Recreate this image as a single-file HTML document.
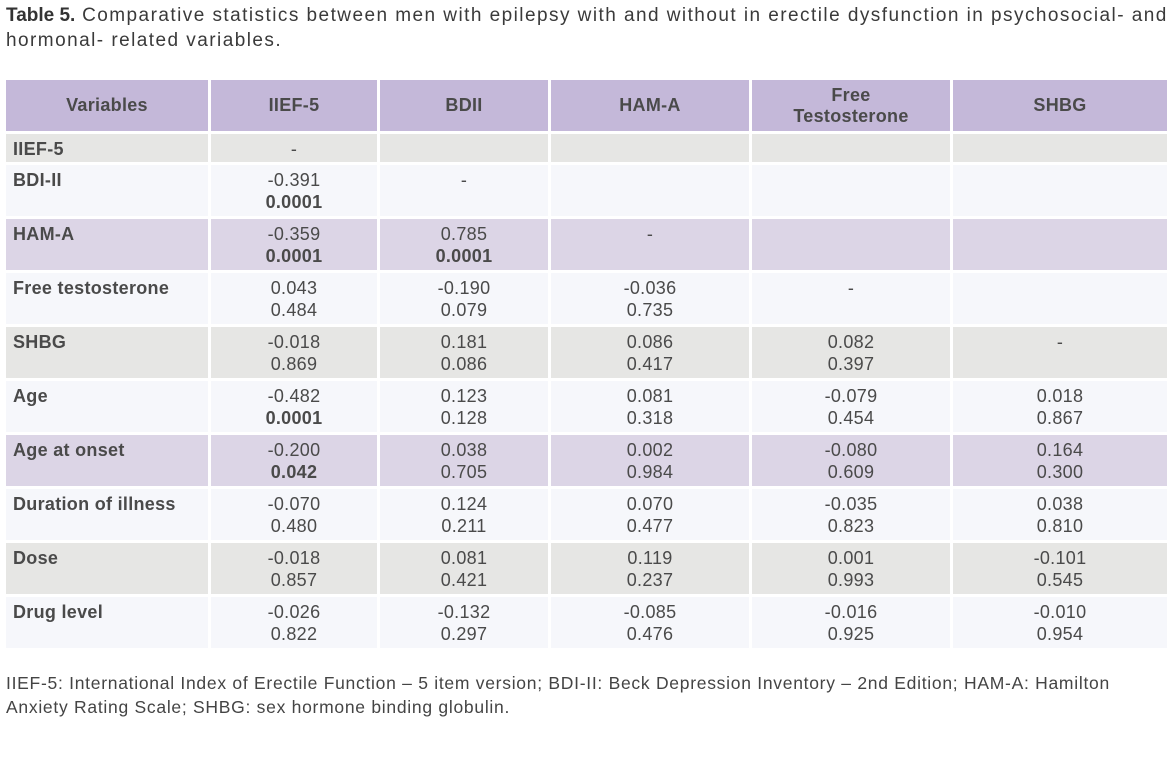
<!DOCTYPE html>
<html><head><meta charset="utf-8"><style>
body{margin:0;width:1172px;height:763px;background:#fff;font-family:"Liberation Sans",sans-serif;color:#4a4a4a;position:relative;overflow:hidden}
.title{position:absolute;left:6px;top:3px;font-size:19px;line-height:25px;width:1170px;color:#3a3a3a;letter-spacing:1.45px;white-space:nowrap}
.title b{color:#333;letter-spacing:0}
.grid{position:absolute;left:6px;top:80px;display:grid;grid-template-columns:202px 166px 168px 198px 198px 214px;grid-template-rows:51px 28px repeat(9,51px);column-gap:3px;row-gap:3px}
.grid div{font-size:18px;line-height:22px;text-align:center;padding-top:4px;box-sizing:border-box;letter-spacing:0.3px}
.grid .h{background:#c4b8d9;font-weight:bold;display:flex;align-items:center;justify-content:center;padding:0;color:#4a4a4a;line-height:21px}
.grid .l{text-align:left;padding-left:7px;font-weight:bold}
.g{background:#e6e6e4}.w{background:#f6f7fb}.p{background:#dcd5e6}
.foot{position:absolute;left:6px;top:671px;font-size:17.5px;line-height:24px;width:1170px;color:#444;letter-spacing:0.72px;white-space:nowrap}
</style></head><body>
<div class="title"><b>Table 5.</b> Comparative statistics between men with epilepsy with and without in erectile dysfunction in psychosocial- and<br>hormonal- related variables.</div>
<div class="grid">
<div class="h">Variables</div><div class="h">IIEF-5</div><div class="h">BDII</div><div class="h">HAM-A</div><div class="h">Free<br>Testosterone</div><div class="h">SHBG</div>
<div class="g l">IIEF-5</div><div class="g">-</div><div class="g"></div><div class="g"></div><div class="g"></div><div class="g"></div>
<div class="w l">BDI-II</div><div class="w">-0.391<br><b>0.0001</b></div><div class="w">-</div><div class="w"></div><div class="w"></div><div class="w"></div>
<div class="p l">HAM-A</div><div class="p">-0.359<br><b>0.0001</b></div><div class="p">0.785<br><b>0.0001</b></div><div class="p">-</div><div class="p"></div><div class="p"></div>
<div class="w l">Free testosterone</div><div class="w">0.043<br>0.484</div><div class="w">-0.190<br>0.079</div><div class="w">-0.036<br>0.735</div><div class="w">-</div><div class="w"></div>
<div class="g l">SHBG</div><div class="g">-0.018<br>0.869</div><div class="g">0.181<br>0.086</div><div class="g">0.086<br>0.417</div><div class="g">0.082<br>0.397</div><div class="g">-</div>
<div class="w l">Age</div><div class="w">-0.482<br><b>0.0001</b></div><div class="w">0.123<br>0.128</div><div class="w">0.081<br>0.318</div><div class="w">-0.079<br>0.454</div><div class="w">0.018<br>0.867</div>
<div class="p l">Age at onset</div><div class="p">-0.200<br><b>0.042</b></div><div class="p">0.038<br>0.705</div><div class="p">0.002<br>0.984</div><div class="p">-0.080<br>0.609</div><div class="p">0.164<br>0.300</div>
<div class="w l">Duration of illness</div><div class="w">-0.070<br>0.480</div><div class="w">0.124<br>0.211</div><div class="w">0.070<br>0.477</div><div class="w">-0.035<br>0.823</div><div class="w">0.038<br>0.810</div>
<div class="g l">Dose</div><div class="g">-0.018<br>0.857</div><div class="g">0.081<br>0.421</div><div class="g">0.119<br>0.237</div><div class="g">0.001<br>0.993</div><div class="g">-0.101<br>0.545</div>
<div class="w l">Drug level</div><div class="w">-0.026<br>0.822</div><div class="w">-0.132<br>0.297</div><div class="w">-0.085<br>0.476</div><div class="w">-0.016<br>0.925</div><div class="w">-0.010<br>0.954</div>
</div>
<div class="foot">IIEF-5: International Index of Erectile Function – 5 item version; BDI-II: Beck Depression Inventory – 2nd Edition; HAM-A: Hamilton<br>Anxiety Rating Scale; SHBG: sex hormone binding globulin.</div>
</body></html>
